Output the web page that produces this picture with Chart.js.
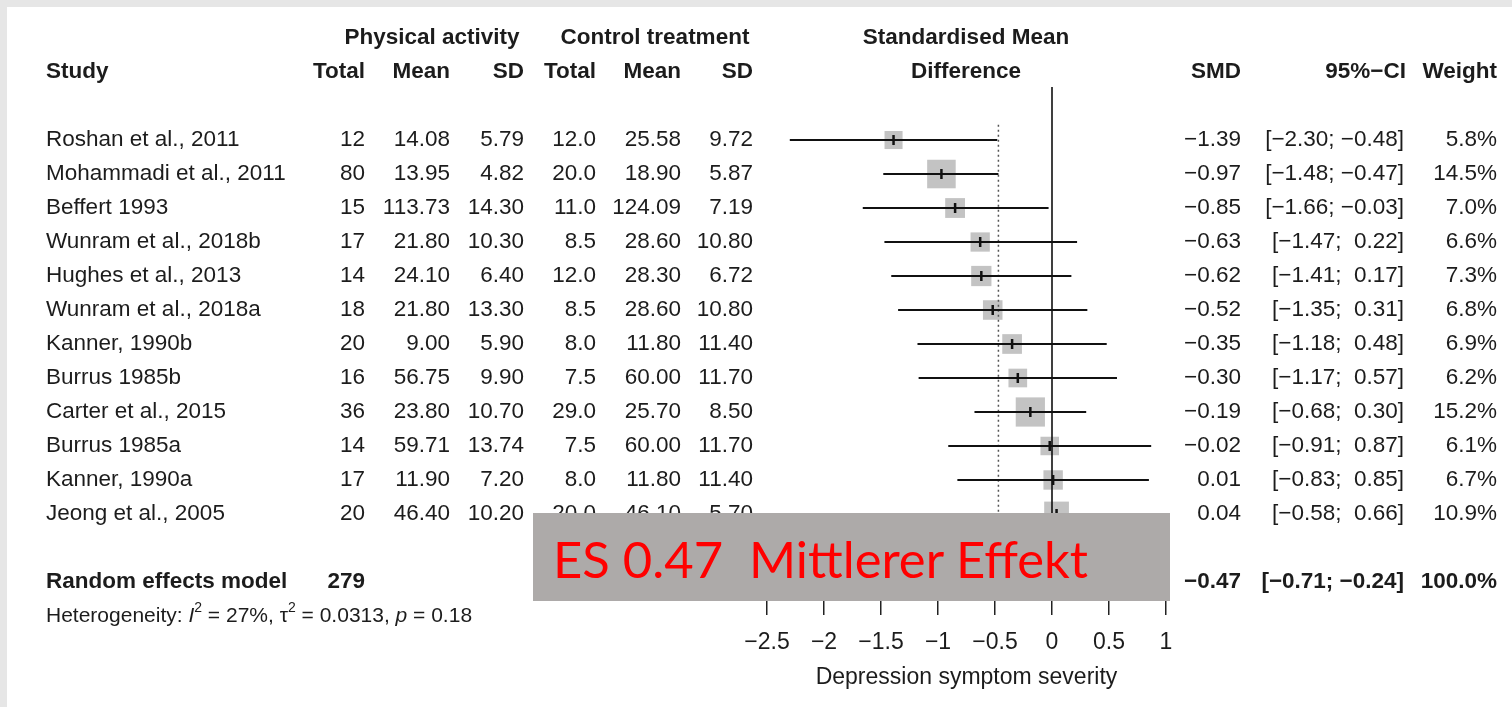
<!DOCTYPE html>
<html>
<head>
<meta charset="utf-8">
<script src="https://cdn.jsdelivr.net/npm/chart.js@4.4.1/dist/chart.umd.min.js"></script>
<style>
  html, body { margin: 0; padding: 0; }
  body { width: 1512px; height: 707px; background: #e6e6e6; overflow: hidden; position: relative; }
  #panel { position: absolute; left: 7px; top: 7px; right: 0; bottom: 0; background: #fff; }
  #chart { position: absolute; left: 0; top: 0; }
  #note { position: absolute; left: 533px; top: 513px; width: 637px; height: 88px; background: #adaaa9; overflow: hidden; }
  #note span { position: absolute; left: 20px; top: 20px; color: #ff0000; font-family: Lato, sans-serif; font-size: 51px; line-height: 1; white-space: pre; transform-origin: 0 0; }
</style>
</head>
<body>
<div id="panel"></div>
<canvas id="chart" width="1512" height="707"></canvas>
<div id="note"><span id="noteText">ES 0.47  Mittlerer Effekt</span></div>
<script>
// study table
const studies = ['Roshan et al., 2011', 'Mohammadi et al., 2011', 'Beffert 1993', 'Wunram et al., 2018b',
  'Hughes et al., 2013', 'Wunram et al., 2018a', 'Kanner, 1990b', 'Burrus 1985b',
  'Carter et al., 2015', 'Burrus 1985a', 'Kanner, 1990a', 'Jeong et al., 2005']
const paTotal = [12, 80, 15, 17, 14, 18, 20, 16, 36, 14, 17, 20]
const paMean = [14.08, 13.95, 113.73, 21.80, 24.10, 21.80, 9.00, 56.75, 23.80, 59.71, 11.90, 46.40]
const paSD = [5.79, 4.82, 14.30, 10.30, 6.40, 13.30, 5.90, 9.90, 10.70, 13.74, 7.20, 10.20]
const ctTotal = [12.0, 20.0, 11.0, 8.5, 12.0, 8.5, 8.0, 7.5, 29.0, 7.5, 8.0, 20.0]
const ctMean = [25.58, 18.90, 124.09, 28.60, 28.30, 28.60, 11.80, 60.00, 25.70, 60.00, 11.80, 46.10]
const ctSD = [9.72, 5.87, 7.19, 10.80, 6.72, 10.80, 11.40, 11.70, 8.50, 11.70, 11.40, 5.70]
const smd = [-1.39, -0.97, -0.85, -0.63, -0.62, -0.52, -0.35, -0.30, -0.19, -0.02, 0.01, 0.04]
const ciLow = [-2.30, -1.48, -1.66, -1.47, -1.41, -1.35, -1.18, -1.17, -0.68, -0.91, -0.83, -0.58]
const ciHigh = [-0.48, -0.47, -0.03, 0.22, 0.17, 0.31, 0.48, 0.57, 0.30, 0.87, 0.85, 0.66]
const weight = [5.8, 14.5, 7.0, 6.6, 7.3, 6.8, 6.9, 6.2, 15.2, 6.1, 6.7, 10.9]

// pooled result
const pooledTotal = 279
const pooledSmd = -0.47
const pooledCi = [-0.71, -0.24]
const pooledWeight = 100.0
const heterogeneity = ['27%', '0.0313', '0.18']   // I2, tau2, p

const xTicks = [-2.5, -2, -1.5, -1, -0.5, 0, 0.5, 1]

// row positions on the y scale
const pooledRow = studies.length + 1
const yMin = -1.56, yMax = 13.56

const fmt = (v, d) => v.toFixed(d).replace('-', '\u2212')
const ciText = (lo, hi) => '[' + fmt(lo, 2) + ';' + (hi < 0 ? ' ' : '  ') + fmt(hi, 2) + ']'

const FONT = '"Liberation Sans", Arial, sans-serif'
const INK = '#1c1c1c'

// --------------------------------------------------------------------------------
// table text drawn around the plot
const tablePlugin = {
    id: 'forestTable',
    afterDraw(chart) {
        const ctx = chart.ctx
        const rowY = i => chart.scales.y.getPixelForValue(i)
        const txt = (s, x, row, align, bold) => {
            ctx.font = (bold ? 'bold ' : '') + '22.5px ' + FONT
            ctx.textAlign = align
            ctx.fillText(s, x, rowY(row))
        }
        ctx.save()
        ctx.fillStyle = INK
        ctx.textBaseline = 'middle'

        // headers
        txt('Physical activity', 432, -3, 'center', true)
        txt('Control treatment', 655, -3, 'center', true)
        txt('Standardised Mean', 966, -3, 'center', true)
        txt('Study', 46, -2, 'left', true)
        txt('Total', 365, -2, 'right', true)
        txt('Mean', 450, -2, 'right', true)
        txt('SD', 524, -2, 'right', true)
        txt('Total', 596, -2, 'right', true)
        txt('Mean', 681, -2, 'right', true)
        txt('SD', 753, -2, 'right', true)
        txt('Difference', 966, -2, 'center', true)
        txt('SMD', 1241, -2, 'right', true)
        txt('95%\u2212CI', 1406, -2, 'right', true)
        txt('Weight', 1497, -2, 'right', true)

        studies.forEach((s, i) => {
            txt(s, 46, i, 'left')
            txt(String(paTotal[i]), 365, i, 'right')
            txt(paMean[i].toFixed(2), 450, i, 'right')
            txt(paSD[i].toFixed(2), 524, i, 'right')
            txt(ctTotal[i].toFixed(1), 596, i, 'right')
            txt(ctMean[i].toFixed(2), 681, i, 'right')
            txt(ctSD[i].toFixed(2), 753, i, 'right')
            txt(fmt(smd[i], 2), 1241, i, 'right')
            txt(ciText(ciLow[i], ciHigh[i]), 1404, i, 'right')
            txt(weight[i].toFixed(1) + '%', 1497, i, 'right')
        })

        txt('Random effects model', 46, pooledRow, 'left', true)
        txt(String(pooledTotal), 365, pooledRow, 'right', true)
        txt(fmt(pooledSmd, 2), 1241, pooledRow, 'right', true)
        txt(ciText(pooledCi[0], pooledCi[1]), 1404, pooledRow, 'right', true)
        txt(pooledWeight.toFixed(1) + '%', 1497, pooledRow, 'right', true)

        // heterogeneity line with italics and superscripts
        const hy = rowY(pooledRow + 1)
        let x = 46
        const piece = (s, style, dy, size) => {
            ctx.font = style + ' ' + (size || 21) + 'px ' + FONT
            ctx.textAlign = 'left'
            ctx.fillText(s, x, hy + (dy || 0))
            x += ctx.measureText(s).width
        }
        piece('Heterogeneity: ', 'normal')
        piece('I', 'italic')
        piece('2', 'normal', -8, 14)
        piece(' = ' + heterogeneity[0] + ', \u03c4', 'normal')
        piece('2', 'normal', -8, 14)
        piece(' = ' + heterogeneity[1] + ', ', 'normal')
        piece('p', 'italic')
        piece(' = ' + heterogeneity[2], 'normal')
        ctx.restore()
    }
}

// --------------------------------------------------------------------------------
// plot marks
const ciSets = studies.map((s, i) => ({
    type: 'scatter',
    data: [{x: ciLow[i], y: i}, {x: ciHigh[i], y: i}],
    showLine: true,
    borderColor: '#111',
    borderWidth: 2,
    pointRadius: 0,
    clip: false,
    order: 1
}))

const estTicks = {
    type: 'scatter',
    data: smd.map((v, i) => ({x: v, y: i})),
    pointStyle: 'line',
    rotation: 90,
    radius: 5,
    borderColor: '#111',
    borderWidth: 2.5,
    clip: false,
    order: 0
}

const squares = {
    type: 'scatter',
    data: smd.map((v, i) => ({x: v, y: i})),
    pointStyle: 'rect',
    pointRadius: weight.map(w => 5.3 * Math.sqrt(w)),
    backgroundColor: '#c3c3c3',
    borderWidth: 0,
    clip: false,
    order: 3
}

const nullLine = {
    type: 'scatter',
    data: [{x: 0, y: yMin}, {x: 0, y: yMax}],
    showLine: true,
    borderColor: '#111',
    borderWidth: 1.6,
    pointRadius: 0,
    clip: false,
    order: 2
}

const pooledLine = {
    type: 'scatter',
    data: [{x: pooledSmd, y: -0.45}, {x: pooledSmd, y: pooledRow}],
    showLine: true,
    borderColor: '#555',
    borderWidth: 1.5,
    borderDash: [2, 3],
    pointRadius: 0,
    clip: false,
    order: 2
}

const diamond = {
    type: 'scatter',
    data: [
        {x: pooledCi[0], y: pooledRow}, {x: pooledSmd, y: pooledRow - 0.3},
        {x: pooledCi[1], y: pooledRow}, {x: pooledSmd, y: pooledRow + 0.3},
        {x: pooledCi[0], y: pooledRow}
    ],
    showLine: true,
    fill: 'shape',
    backgroundColor: '#c3c3c3',
    borderColor: '#111',
    borderWidth: 1,
    pointRadius: 0,
    clip: false,
    order: 1
}

const chart = new Chart(document.getElementById('chart'), {
    type: 'scatter',
    data: { datasets: [...ciSets, estTicks, squares, nullLine, pooledLine, diamond] },
    options: {
        responsive: false,
        animation: false,
        events: [],
        layout: { padding: { left: 767, right: 346, top: 87, bottom: 0 } },
        plugins: { legend: { display: false }, tooltip: { enabled: false } },
        scales: {
            x: {
                type: 'linear',
                min: xTicks[0],
                max: xTicks[xTicks.length - 1],
                afterBuildTicks: scale => { scale.ticks = xTicks.map(v => ({value: v})) },
                afterFit: scale => { scale.height = 106 },
                grid: { drawOnChartArea: false, drawTicks: true, tickLength: 14, color: '#222', lineWidth: 1.5 },
                border: { display: false },
                ticks: {
                    color: INK,
                    font: { family: FONT, size: 23 },
                    padding: 14,
                    maxRotation: 0,
                    callback: v => fmt(v, v % 1 === 0 ? 0 : 1)
                },
                title: {
                    display: true,
                    text: 'Depression symptom severity',
                    color: INK,
                    font: { family: FONT, size: 23 },
                    padding: { top: 0, bottom: 16 }
                }
            },
            y: { type: 'linear', reverse: true, min: yMin, max: yMax, display: false }
        }
    },
    plugins: [tablePlugin]
})

// stretch the overlay label to the reference width
const noteText = document.getElementById('noteText')
const w = noteText.getBoundingClientRect().width
noteText.style.transform = 'scaleX(' + (535 / w) + ')'
</script>
</body>
</html>
